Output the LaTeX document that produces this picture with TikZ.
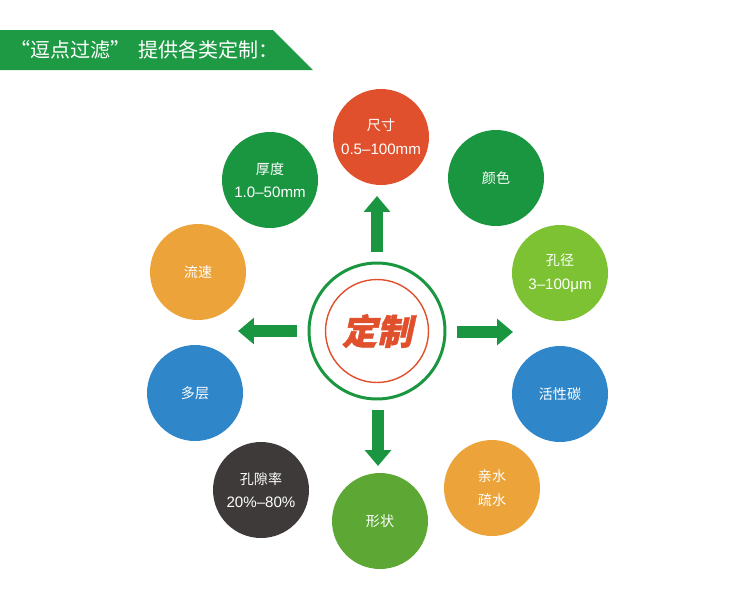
\documentclass[tikz,border=0pt]{standalone}
\usepackage{fontspec}
\usetikzlibrary{arrows.meta}
\newfontfamily\cjk{Noto Sans CJK SC}
\newfontfamily\cjkslant[FakeSlant=0.22, FakeBold=1.2]{Noto Sans CJK SC}
\newfontfamily\latin{Liberation Sans}

\definecolor{bannerGreen}{HTML}{1E9A45}
\definecolor{arrowGreen}{HTML}{1A9641}
\definecolor{sizeRed}{HTML}{E0502C}
\definecolor{darkGreen}{HTML}{1A9641}
\definecolor{limeGreen}{HTML}{7DC232}
\definecolor{midGreen}{HTML}{5DA834}
\definecolor{skyBlue}{HTML}{2F86C9}
\definecolor{sunOrange}{HTML}{EBA33A}
\definecolor{coalGray}{HTML}{3E3A39}

\tikzset{
  bubble/.style={circle, minimum size=1.92cm, inner sep=0pt, text=white,
    align=center, font=\cjk\fontsize{8}{13.5}\selectfont},
  fatarrow/.style={draw=arrowGreen, line width=6.8pt,
    -{Triangle[width=14.5pt, length=9pt]}}
}

\begin{document}
\begin{tikzpicture}[x=0.02cm, y=-0.02cm]
    \useasboundingbox (0,0) rectangle (750,606);

    % Green title banner
    \fill[bannerGreen] (0,30) -- (273,30) -- (313,70) -- (0,70) -- cycle;
    \node[anchor=west, text=white, font=\cjk\fontsize{11.4}{13}\selectfont] (title) at (4,50) {“逗点过滤” \,提供各类定制：};

    % Centre rings
    \node[circle, draw=arrowGreen, line width=1.7pt, minimum size=2.72cm] (ring) at (377,331) {};
    \node[circle, draw=sizeRed, line width=0.8pt, minimum size=2.06cm, text=sizeRed,
      font=\cjkslant\bfseries\fontsize{20}{22}\selectfont] (core) at (377,331) {定制};

    % Arrow ends
    \coordinate (upFrom) at (377,252);
    \coordinate (upTo) at (377,196);
    \coordinate (rightFrom) at (457,332);
    \coordinate (rightTo) at (513,332);
    \coordinate (leftFrom) at (297,331);
    \coordinate (leftTo) at (238,331);
    \coordinate (downFrom) at (378,410);
    \coordinate (downTo) at (378,466);

    \draw[fatarrow] (upFrom) -- (upTo);
    \draw[fatarrow] (rightFrom) -- (rightTo);
    \draw[fatarrow] (leftFrom) -- (leftTo);
    \draw[fatarrow] (downFrom) -- (downTo);

    % Outer circles, clockwise from the top
    \node[bubble, fill=sizeRed] (size) at (381,137) {尺寸\\{\latin\fontsize{8.6}{13.5}\selectfont 0.5–100mm}};
    \node[bubble, fill=darkGreen] (colour) at (496,178) {颜色};
    \node[bubble, fill=limeGreen] (pore) at (560,273) {孔径\\{\latin\fontsize{8.6}{13.5}\selectfont 3–100μm}};
    \node[bubble, fill=skyBlue] (carbon) at (560,394) {活性碳};
    \node[bubble, fill=sunOrange] (hydro) at (492,488) {亲水\\疏水};
    \node[bubble, fill=midGreen] (shape) at (380,521) {形状};
    \node[bubble, fill=coalGray] (porosity) at (261,490) {孔隙率\\{\latin\fontsize{8.6}{13.5}\selectfont 20\%–80\%}};
    \node[bubble, fill=skyBlue] (layer) at (195,393) {多层};
    \node[bubble, fill=sunOrange] (flow) at (198,272) {流速};
    \node[bubble, fill=darkGreen] (thick) at (270,180) {厚度\\{\latin\fontsize{8.6}{13.5}\selectfont 1.0–50mm}};

\end{tikzpicture}
\end{document}
